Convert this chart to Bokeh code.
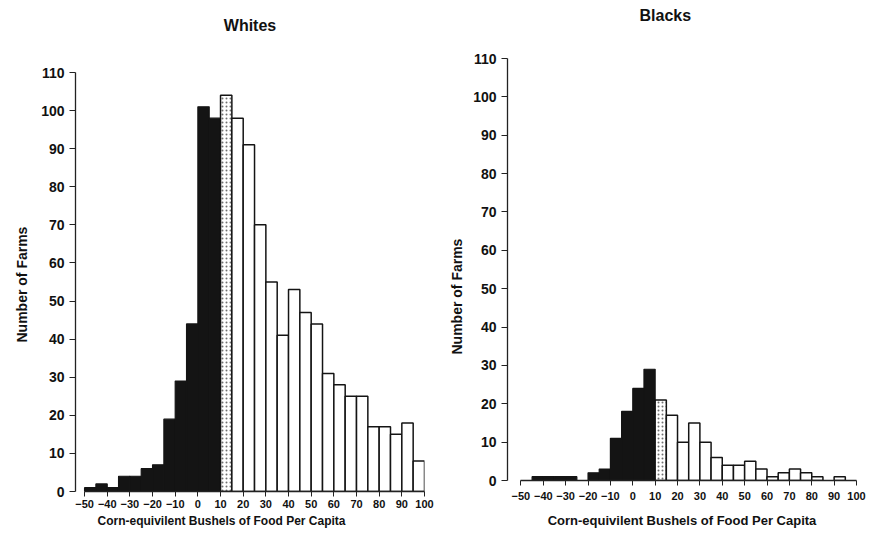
from bokeh.plotting import figure
from bokeh.models import Range1d, FixedTicker, Title
from bokeh.layouts import row
from bokeh.embed import file_html
from bokeh.resources import INLINE

# ---- data -------------------------------------------------------------
bin_left = [-50, -45, -40, -35, -30, -25, -20, -15, -10, -5,
            0, 5, 10, 15, 20, 25, 30, 35, 40, 45,
            50, 55, 60, 65, 70, 75, 80, 85, 90, 95]
bin_width = 5

whites_counts = [1, 2, 1, 4, 4, 6, 7, 19, 29, 44,
                 101, 98, 104, 98, 91, 70, 55, 41, 53, 47,
                 44, 31, 28, 25, 25, 17, 17, 15, 18, 8]

blacks_counts = [0, 1, 1, 1, 1, 0, 2, 3, 11, 18,
                 24, 29, 21, 17, 10, 15, 10, 6, 4, 4,
                 5, 3, 1, 2, 3, 2, 1, 0, 1, 0]

x_ticks = [-50, -40, -30, -20, -10, 0, 10, 20, 30, 40, 50, 60, 70, 80, 90, 100]
y_ticks = [0, 10, 20, 30, 40, 50, 60, 70, 80, 90, 100, 110]

stipple_bin = 10      # bins left of this are black, this one is stippled
x_label = "Corn-equivilent Bushels of Food Per Capita"
y_label = "Number of Farms"

FONT = "Liberation Sans"
INK = "#111111"


def make_panel(counts, title, width, height, b_left, b_top, b_right, b_bottom,
               x_start, title_gap, title_align, title_offset, ylab_offset,
               ylab_standoff, xl_align, xl_offset, xl_size, xl_standoff,
               tick_standoff):
    p = figure(width=width, height=height,
               x_range=Range1d(x_start, 100), y_range=Range1d(0, 110),
               output_backend="svg", toolbar_location=None,
               min_border_left=b_left, min_border_top=b_top,
               min_border_right=b_right, min_border_bottom=b_bottom)
    p.title = None
    p.frame_align = False
    p.outline_line_color = None
    p.xgrid.visible = False
    p.ygrid.visible = False

    groups = {"black": ([], [], []), "stip": ([], [], []), "white": ([], [], [])}
    for l, c in zip(bin_left, counts):
        if c <= 0:
            continue
        key = "black" if l < stipple_bin else ("stip" if l == stipple_bin else "white")
        groups[key][0].append(l)
        groups[key][1].append(l + bin_width)
        groups[key][2].append(c)

    L, R, T = groups["black"]
    p.quad(left=L, right=R, top=T, bottom=0, fill_color="#141414",
           line_color="#141414", line_width=1.2)
    L, R, T = groups["stip"]
    p.quad(left=L, right=R, top=T, bottom=0, fill_color="white",
           line_color="#141414", line_width=1.5,
           hatch_pattern=".", hatch_color="#333333", hatch_scale=4,
           hatch_weight=0.6, hatch_alpha=0.7)
    L, R, T = groups["white"]
    p.quad(left=L, right=R, top=T, bottom=0, fill_color="white",
           line_color="#141414", line_width=1.5)

    xa = p.xaxis[0]
    xa.ticker = FixedTicker(ticks=x_ticks)
    xa.bounds = (-50, 100)
    xa.major_tick_out = 5
    xa.major_tick_in = 0
    xa.minor_tick_out = 0
    xa.minor_tick_in = 0
    xa.major_label_standoff = tick_standoff
    xa.major_label_text_font = FONT
    xa.major_label_text_font_size = "11px"
    xa.major_label_text_font_style = "bold"
    xa.major_label_text_color = INK
    xa.axis_line_color = "#222222"
    xa.axis_line_width = 1.3
    xa.major_tick_line_color = "#222222"

    ya = p.yaxis[0]
    ya.ticker = FixedTicker(ticks=y_ticks)
    ya.bounds = (0, 110)
    ya.major_tick_out = 6
    ya.major_tick_in = 0
    ya.minor_tick_out = 0
    ya.minor_tick_in = 0
    ya.major_label_standoff = 5
    ya.major_label_text_font = FONT
    ya.major_label_text_font_size = "14px"
    ya.major_label_text_font_style = "bold"
    ya.major_label_text_color = INK
    ya.axis_line_color = "#222222"
    ya.axis_line_width = 1.3
    ya.major_tick_line_color = "#222222"

    # spacer above the frame (nearest the frame), then the chart title further out
    p.add_layout(Title(text=" ", text_font_size="1px", standoff=title_gap), "above")
    p.add_layout(Title(text=title, align=title_align, offset=title_offset,
                       text_font=FONT, text_font_size="16px",
                       text_font_style="bold", text_color=INK, standoff=0),
                 "above")
    # y axis title
    p.add_layout(Title(text=y_label, align="left", offset=ylab_offset,
                       text_font=FONT, text_font_size="14px",
                       text_font_style="bold", text_color=INK,
                       standoff=ylab_standoff), "left")
    # x axis title
    p.add_layout(Title(text=x_label, align=xl_align, offset=xl_offset,
                       text_font=FONT, text_font_size=xl_size,
                       text_font_style="bold", text_color=INK,
                       standoff=xl_standoff), "below")
    return p


p1 = make_panel(whites_counts, "Whites", width=440, height=535,
                b_left=75, b_top=72, b_right=16, b_bottom=44, x_start=-54,
                title_gap=36, title_align="center", title_offset=0,
                ylab_offset=149, ylab_standoff=18,
                xl_align="left", xl_offset=22, xl_size="12px", xl_standoff=2,
                tick_standoff=3)
p2 = make_panel(blacks_counts, "Blacks", width=426, height=535,
                b_left=67, b_top=58, b_right=10, b_bottom=54, x_start=-56,
                title_gap=32, title_align="left", title_offset=132,
                ylab_offset=126, ylab_standoff=12,
                xl_align="center", xl_offset=0, xl_size="13px", xl_standoff=16,
                tick_standoff=6)

layout = row(p1, p2)
open("out.html", "w").write(file_html(layout, INLINE))
